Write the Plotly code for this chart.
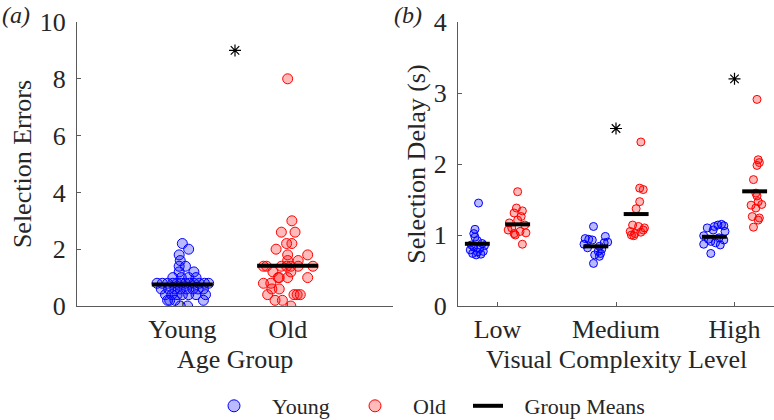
import plotly.graph_objects as go
import numpy as np

# ---------------- Panel (a) data ----------------
age_groups = ["Young", "Old"]
age_pos = [1, 2]

young_err = [2.2, 2.0, 1.8, 1.6, 1.4, 1.4, 1.2, 1.2, 1.0, 1.0, 1.0, 1.0,
             0.8, 0.8, 0.8, 0.8, 0.8, 0.8, 0.8, 0.8, 0.8, 0.8, 0.8, 0.8,
             0.6, 0.6, 0.6, 0.6, 0.6, 0.6, 0.6, 0.6,
             0.4, 0.4, 0.4, 0.4, 0.4, 0.4, 0.4,
             0.2, 0.2, 0.2, 0.2, 0.0, 0.0]
young_jit = [0.0, 0.06, -0.03, -0.02, -0.03, 0.03, -0.03, 0.11, -0.09, -0.01, 0.06, 0.13,
             -0.24, -0.19, -0.14, -0.09, -0.05, -0.01, 0.03, 0.07, 0.11, 0.16, 0.21, 0.25,
             -0.2, -0.13, -0.07, -0.02, 0.04, 0.1, 0.15, 0.2,
             -0.16, -0.1, -0.05, 0.0, 0.06, 0.13, 0.22,
             -0.14, -0.12, -0.07, 0.2, -0.02, 0.05]

old_err = [3.0, 2.6, 2.6, 2.2, 2.2, 2.0, 1.8, 1.8, 1.6, 1.6,
           1.4, 1.4, 1.4, 1.4, 1.4, 1.4, 1.4, 1.2, 1.2,
           1.0, 1.0, 1.0, 1.0, 0.8, 0.8, 0.6, 0.6,
           0.4, 0.4, 0.4, 0.4, 0.2, 0.2, 0.0, 8.0]
old_jit = [0.04, -0.06, 0.07, -0.01, 0.04, -0.11, 0.0, 0.19, 0.0, 0.1,
           -0.23, -0.2, -0.06, -0.01, 0.03, 0.1, 0.24, -0.14, 0.03,
           -0.09, -0.08, 0.0, 0.19, -0.23, -0.16, -0.15, -0.08,
           -0.19, 0.06, 0.09, 0.12, -0.12, -0.05, 0.03, 0.0]

err_means = [0.76, 1.42]
err_sig_x = [1.5]
err_sig_y = [9.0]

# ---------------- Panel (b) data ----------------
levels = ["Low", "Medium", "High"]
level_pos = [1, 2, 3]

delay_young = [
    [1.45, 1.08, 1.02, 0.97, 0.92, 0.88, 0.86, 0.85, 0.83, 0.81, 0.79, 0.77, 0.76, 0.74, 0.73, 0.72],
    [1.12, 0.98, 0.95, 0.94, 0.93, 0.90, 0.89, 0.87, 0.84, 0.82, 0.80, 0.77, 0.74, 0.72, 0.70, 0.60],
    [1.15, 1.14, 1.13, 1.12, 1.10, 1.07, 1.05, 0.99, 0.96, 0.94, 0.93, 0.91, 0.89, 0.87, 0.86, 0.74],
]
delay_young_jit = [
    [0.01, -0.02, -0.03, -0.02, 0.0, 0.04, -0.05, 0.06, -0.03, 0.02, -0.06, 0.05, 0.0, -0.04, 0.03, -0.01],
    [-0.02, 0.08, -0.09, -0.06, -0.03, 0.1, 0.07, -0.1, 0.03, -0.07, 0.05, 0.02, 0.04, -0.01, 0.03, -0.02],
    [0.06, 0.03, 0.08, 0.0, -0.06, -0.01, 0.09, -0.09, 0.04, -0.05, 0.08, -0.03, 0.01, -0.09, 0.05, -0.03],
]
delay_old = [
    [1.61, 1.38, 1.34, 1.31, 1.26, 1.21, 1.17, 1.14, 1.10, 1.07, 1.05, 1.03, 1.02, 1.00, 0.87],
    [2.31, 1.66, 1.64, 1.47, 1.37, 1.14, 1.12, 1.10, 1.07, 1.05, 1.04, 1.02, 1.00, 0.99],
    [2.91, 2.06, 2.02, 1.98, 1.78, 1.59, 1.55, 1.47, 1.43, 1.42, 1.38, 1.26, 1.24, 1.21, 1.11],
]
delay_old_jit = [
    [0.0, -0.01, 0.04, -0.03, 0.03, 0.0, -0.07, 0.06, -0.05, -0.08, 0.02, 0.07, -0.03, -0.02, 0.04],
    [0.04, 0.03, 0.06, 0.03, 0.0, -0.03, 0.02, 0.07, 0.06, -0.05, 0.04, -0.01, -0.04, -0.02],
    [0.02, 0.03, 0.04, 0.02, -0.01, 0.01, 0.02, 0.03, 0.06, -0.03, 0.01, -0.02, 0.04, 0.03, -0.01],
]
delay_means_young = [0.876, 0.84, 0.975]
delay_means_old = [1.15, 1.295, 1.615]
delay_sig_x = [2, 3]
delay_sig_y = [2.5, 3.2]

group_offset = 0.17

BLUE = "rgb(0,0,255)"
RED = "rgb(255,0,0)"
BLUE_F = "rgba(0,0,255,0.27)"
RED_F = "rgba(255,0,0,0.27)"
FONT = "Liberation Serif"
AXC = "#5a5a5a"
TXC = "#262626"
NB = "\u00a0"

W, H, MB = 774, 420, 40
PH = H - MB  # plot-area height in px


def py(pix):
    """pixel row (from top of figure) -> paper y"""
    return (H - MB - pix) / PH


fig = go.Figure()

# ---- Panel (a) scatter ----
fig.add_trace(go.Scatter(
    x=[age_pos[0] + j for j in young_jit], y=young_err, mode="markers",
    marker=dict(size=10, color=BLUE_F, line=dict(color=BLUE, width=1)),
    showlegend=False, xaxis="x", yaxis="y"))
fig.add_trace(go.Scatter(
    x=[age_pos[1] + j for j in old_jit], y=old_err, mode="markers",
    marker=dict(size=10, color=RED_F, line=dict(color=RED, width=1)),
    showlegend=False, xaxis="x", yaxis="y"))


def mean_segments(centers, means, hw):
    xs, ys = [], []
    for c, m in zip(centers, means):
        xs += [c - hw, c + hw, None]
        ys += [m, m, None]
    return xs, ys


mx, my = mean_segments(age_pos, err_means, 0.29)
fig.add_trace(go.Scatter(x=mx, y=my, mode="lines", line=dict(color="black", width=4),
                         showlegend=False, xaxis="x", yaxis="y"))
fig.add_trace(go.Scatter(x=err_sig_x, y=err_sig_y, mode="markers",
                         marker=dict(symbol="asterisk-open", size=10, color="black",
                                     line=dict(color="black", width=1.2)),
                         showlegend=False, xaxis="x", yaxis="y"))

# ---- Panel (b) scatter ----
for i, p in enumerate(level_pos):
    fig.add_trace(go.Scatter(
        x=[p - group_offset + j for j in delay_young_jit[i]], y=delay_young[i], mode="markers",
        marker=dict(size=8, color=BLUE_F, line=dict(color=BLUE, width=1)),
        showlegend=False, xaxis="x2", yaxis="y2"))
    fig.add_trace(go.Scatter(
        x=[p + group_offset + j for j in delay_old_jit[i]], y=delay_old[i], mode="markers",
        marker=dict(size=8, color=RED_F, line=dict(color=RED, width=1)),
        showlegend=False, xaxis="x2", yaxis="y2"))

bx1, by1 = mean_segments([p - group_offset for p in level_pos], delay_means_young, 0.105)
bx2, by2 = mean_segments([p + group_offset for p in level_pos], delay_means_old, 0.105)
fig.add_trace(go.Scatter(x=bx1 + bx2, y=by1 + by2, mode="lines", line=dict(color="black", width=4),
                         showlegend=False, xaxis="x2", yaxis="y2"))
fig.add_trace(go.Scatter(x=delay_sig_x, y=delay_sig_y, mode="markers",
                         marker=dict(symbol="asterisk-open", size=10, color="black",
                                     line=dict(color="black", width=1.2)),
                         showlegend=False, xaxis="x2", yaxis="y2"))

# ---- legend entries ----
fig.add_trace(go.Scatter(x=[None], y=[None], mode="markers", name="Young", legend="legend",
                         marker=dict(size=12, color=BLUE_F, line=dict(color=BLUE, width=1))))
fig.add_trace(go.Scatter(x=[None], y=[None], mode="markers", name="Old", legend="legend2",
                         marker=dict(size=12, color=RED_F, line=dict(color=RED, width=1))))
fig.add_trace(go.Scatter(x=[None], y=[None], mode="lines", name=NB * 3 + "Group Means",
                         legend="legend3", line=dict(color="black", width=4)))

ax_common = dict(showline=True, linecolor=AXC, linewidth=1, ticks="inside", ticklen=4,
                 tickcolor=AXC, showgrid=False, zeroline=False, automargin=False,
                 tickfont=dict(family=FONT, size=26, color=TXC),
                 title_font=dict(family=FONT, size=26, color=TXC))

leg_common = dict(orientation="h", yref="container", xref="container",
                  y=14/420, yanchor="middle", xanchor="left",
                  font=dict(family=FONT, size=22, color=TXC), bgcolor="rgba(0,0,0,0)")

ydom = [py(306), py(22)]

fig.update_layout(
    width=W, height=H,
    margin=dict(l=0, r=0, t=0, b=MB, autoexpand=False),
    paper_bgcolor="white", plot_bgcolor="white",
    font=dict(family=FONT, color=TXC),
    xaxis=dict(domain=[77/W, 393/W], range=[0, 3], tickvals=age_pos, ticktext=age_groups,
               ticklabelstandoff=0, anchor="y", **ax_common),
    yaxis=dict(domain=ydom, range=[0, 10], tickvals=[0, 2, 4, 6, 8, 10],
               ticklabelstandoff=5,
               title=dict(text="Selection Errors", standoff=0), anchor="x", **ax_common),
    xaxis2=dict(domain=[458/W, 1.0], range=[2/3, 10/3], tickvals=level_pos, ticktext=levels,
                ticklabelstandoff=0, anchor="y2", **ax_common),
    yaxis2=dict(domain=ydom, range=[0, 4], tickvals=[0, 1, 2, 3, 4],
                ticklabelstandoff=5,
                title=dict(text="Selection Delay (s)", standoff=0), anchor="x2", **ax_common),
    legend=dict(x=196/W, itemwidth=66, **leg_common),
    legend2=dict(x=337/W, itemwidth=66, **leg_common),
    legend3=dict(x=468/W, itemwidth=30, **leg_common),
    annotations=[
        dict(text="<i>(a)</i>", x=0, y=1, xref="paper", yref="paper", xanchor="left",
             yanchor="top", showarrow=False, font=dict(family=FONT, size=24, color=TXC)),
        dict(text="<i>(b)</i>", x=392/W, y=1, xref="paper", yref="paper", xanchor="left",
             yanchor="top", showarrow=False, font=dict(family=FONT, size=24, color=TXC)),
        dict(text="Age Group", x=(77 + 393) / 2 / W, y=py(359), xref="paper", yref="paper",
             xanchor="center", yanchor="middle", showarrow=False,
             font=dict(family=FONT, size=26, color=TXC)),
        dict(text="Visual Complexity Level", x=(458 + 774) / 2 / W, y=py(359), xref="paper",
             yref="paper", xanchor="center", yanchor="middle", showarrow=False,
             font=dict(family=FONT, size=26, color=TXC)),
    ],
)

fig.write_html("out.html")
